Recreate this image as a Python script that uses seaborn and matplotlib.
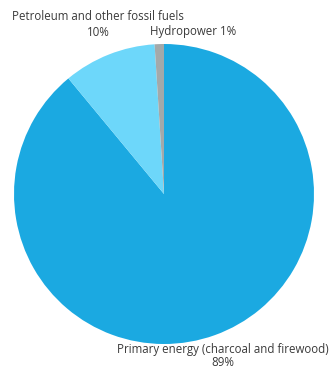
import matplotlib
matplotlib.use("Agg")
import matplotlib.pyplot as plt
import seaborn as sns

# Data
sources = ["Primary energy (charcoal and firewood)", "Petroleum and other fossil fuels", "Hydropower"]
shares = [89, 10, 1]
colors = ["#1BA9E1", "#6DD7FA", "#A3A9AA"]

sns.set_theme(style="white")
plt.rcParams["font.family"] = ["Open Sans", "DejaVu Sans"]

fig = plt.figure(figsize=(3.3, 3.71), dpi=100)
ax = fig.add_axes([14 / 330, (371 - 344) / 371, 300 / 330, 300 / 371])

ax.pie(shares, colors=colors, startangle=90, counterclock=False,
       wedgeprops={"linewidth": 0})
ax.set_xlim(-1, 1)
ax.set_ylim(-1, 1)
ax.set_aspect("equal")
ax.axis("off")

txt = dict(fontsize=8.3, color="#3a3a3a", clip_on=False, va="center")
# petroleum label, name and share on separate lines
ax.text(-0.44, 1.18, sources[1], ha="center", **txt)
ax.text(-0.44, 1.08, f"{shares[1]}%", ha="center", **txt)
ax.text(-0.09, 1.08, f"{sources[2]} {shares[2]}%", ha="left", **txt)
ax.text(0.39, -1.035, sources[0], ha="center", **txt)
ax.text(0.39, -1.125, f"{shares[0]}%", ha="center", **txt)

fig.savefig("out.png", dpi=100)
